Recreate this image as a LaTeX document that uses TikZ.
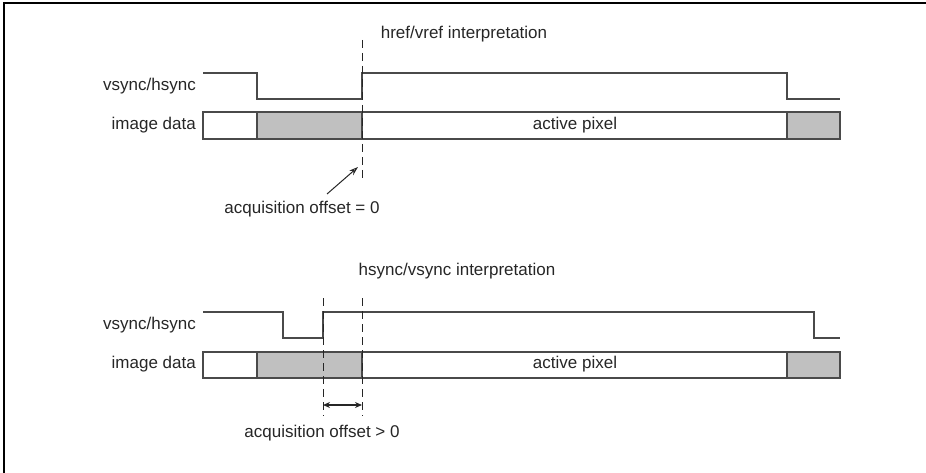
\documentclass[tikz,border=0pt]{standalone}
\usepackage{fontspec}
\setmainfont{Liberation Sans}
\usetikzlibrary{arrows.meta}
\definecolor{sig}{HTML}{4A4A4A}
\definecolor{blk}{HTML}{C0C0C0}
\tikzset{
  lbl/.style={font=\fontsize{17}{19}\selectfont, text=black!85, inner sep=0pt},
  rlbl/.style={lbl, anchor=east},
  wave/.style={draw=sig, line width=1.4pt, line join=miter},
  bar/.style={draw=sig, line width=1.3pt},
  graybar/.style={bar, fill=blk},
  marker/.style={draw=black!85, line width=1pt, dash pattern=on 8pt off 5pt},
  frame/.style={draw=black, line width=1.6pt},
}
\begin{document}
\begin{tikzpicture}[x=1pt,y=-1pt]
\useasboundingbox (0,0) rectangle (926,473);
\draw[frame] (4,473) -- (4,3) -- (926,3);

% ---------- top: href/vref ----------
\node[lbl] (t1) at (464,34) {href/vref interpretation};
\node[rlbl] (s1) at (196,86) {vsync/hsync};
\node[rlbl] (d1) at (196,125) {image data};
\draw[wave] (203,73) -- (257,73) -- (257,99) -- (362,99) -- (362,73) -- (787,73) -- (787,99) -- (840,99);
\draw[bar] (203,112) rectangle (257,139);
\draw[graybar] (257,112) rectangle (362,139);
\draw[bar] (362,112) rectangle (787,139);
\draw[graybar] (787,112) rectangle (840,139);
\node[lbl] (a1) at (575,125) {active pixel};
\draw[marker] (362,40) -- (362,178);
\node[lbl] (o1) at (302,209) {acquisition offset = 0};
\coordinate (o1t) at (327,194);
\coordinate (o1h) at (358,167);
\draw[line width=1pt, black!85, -{Stealth[length=9pt,width=6pt,open]}] (o1t) -- (o1h);

% ---------- bottom: hsync/vsync ----------
\node[lbl] (t2) at (457,271) {hsync/vsync interpretation};
\node[rlbl] (s2) at (196,325) {vsync/hsync};
\node[rlbl] (d2) at (196,364) {image data};
\draw[wave] (203,312) -- (283,312) -- (283,338) -- (323,338) -- (323,312) -- (814,312) -- (814,338) -- (840,338);
\draw[bar] (203,352) rectangle (257,378);
\draw[graybar] (257,352) rectangle (362,378);
\draw[bar] (362,352) rectangle (787,378);
\draw[graybar] (787,352) rectangle (840,378);
\node[lbl] (a2) at (575,364) {active pixel};
\draw[marker] (323,298) -- (323,416);
\draw[marker] (362,298) -- (362,416);
\coordinate (l2) at (323,405);
\coordinate (r2) at (362,405);
\draw[line width=1.3pt, black!85, {Stealth[length=7pt,width=6pt]}-{Stealth[length=7pt,width=6pt]}] (l2) -- (r2);
\node[lbl] (o2) at (322,433) {acquisition offset > 0};
\end{tikzpicture}
\end{document}
